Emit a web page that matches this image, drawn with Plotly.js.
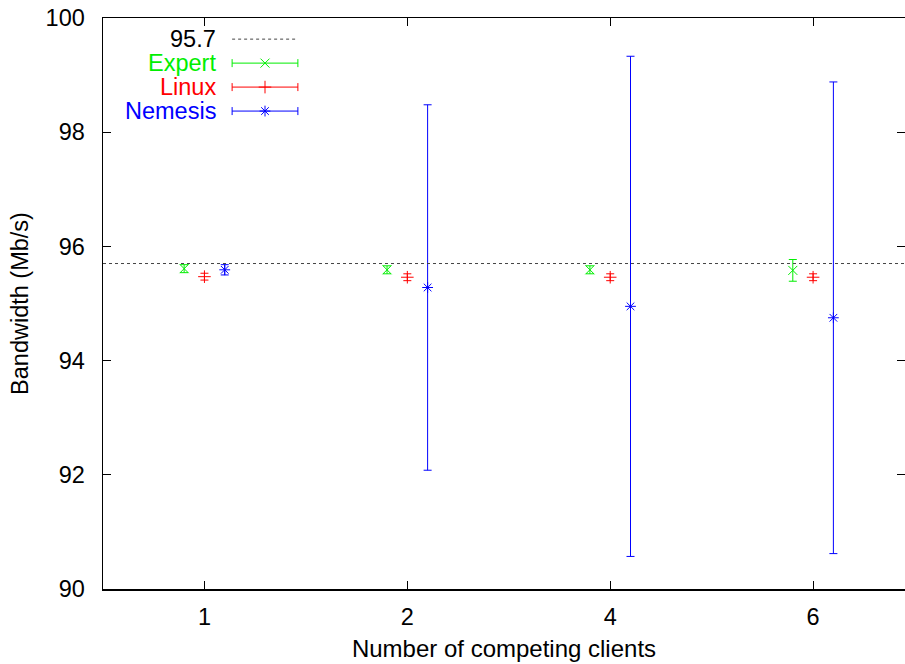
<!DOCTYPE html>
<html>
<head>
<meta charset="utf-8">
<script src="https://cdn.plot.ly/plotly-3.0.1.min.js"></script>
<style>html,body{margin:0;padding:0;background:#fff;}#chart{width:905px;height:664px;}</style>
</head>
<body>
<div id="chart"></div>
<script>
const categories = ['1', '2', '4', '6'];
const expert = [95.61, 95.59, 95.59, 95.58];
const expertErr = [0.07, 0.07, 0.07, 0.19];
const linux = [95.47, 95.46, 95.46, 95.46];
const linuxErr = [0.06, 0.06, 0.06, 0.06];
const nemesis = [95.59, 95.28, 94.95, 94.75];
const nemesisErr = [0.09, 3.2, 4.38, 4.13];
const refLine = 95.7;
const seriesNames = ['Expert', 'Linux', 'Nemesis'];

const FONT = 'Liberation Sans, Arial, Helvetica, sans-serif';
const FS = 23.5;
const colors = ['#00ee00', '#ff0000', '#0000ff'];
const symbols = ['x-thin-open', 'cross-thin-open', 'asterisk-open'];
const offsets = [-0.1, 0, 0.1];
const series = [[expert, expertErr], [linux, linuxErr], [nemesis, nemesisErr]];
const idx = categories.map((c, i) => i);

const traces = series.map(([vals, errs], s) => ({
  type: 'scatter', mode: 'markers',
  x: idx.map(i => i + offsets[s]), y: vals,
  marker: {symbol: symbols[s], size: 9, color: colors[s], line: {width: 1, color: colors[s]}},
  error_y: {type: 'data', array: errs, visible: true, color: colors[s], thickness: 1, width: 4},
  showlegend: false, hoverinfo: 'skip'
}));

// legend samples (gnuplot style) on an overlay axis in [0,1]
const legX0 = 0.161, legX1 = 0.243, legTextX = 0.144;
const legRows = [0.963, 0.921, 0.879, 0.837];
seriesNames.forEach((n, s) => {
  traces.push({
    type: 'scatter', mode: 'markers', xaxis: 'x2', yaxis: 'y2',
    x: [(legX0 + legX1) / 2], y: [legRows[s + 1]],
    marker: {symbol: symbols[s], size: 9, color: colors[s], line: {width: 1, color: colors[s]}},
    error_x: {type: 'data', array: [(legX1 - legX0) / 2], visible: true, color: colors[s], thickness: 1, width: 4},
    showlegend: false, hoverinfo: 'skip'
  });
});

const annotations = [{
  xref: 'paper', yref: 'paper', x: legTextX, y: legRows[0], xanchor: 'right', yanchor: 'middle',
  text: String(refLine), showarrow: false, font: {family: FONT, size: FS, color: '#000'}
}];
seriesNames.forEach((n, s) => annotations.push({
  xref: 'paper', yref: 'paper', x: legTextX, y: legRows[s + 1], xanchor: 'right', yanchor: 'middle',
  text: n, showarrow: false, font: {family: FONT, size: FS, color: colors[s]}
}));

const shapes = [
  {type: 'line', xref: 'paper', yref: 'y', x0: 0, x1: 1, y0: refLine, y1: refLine,
   line: {color: '#444', width: 1, dash: 'dot'}},
  {type: 'line', xref: 'paper', yref: 'paper', x0: legX0, x1: legX1, y0: legRows[0], y1: legRows[0],
   line: {color: '#444', width: 1, dash: 'dot'}}
];

const layout = {
  width: 905, height: 664,
  margin: {l: 103, r: 0, t: 18, b: 75},
  paper_bgcolor: '#fff', plot_bgcolor: '#fff',
  font: {family: FONT, size: FS, color: '#000'},
  xaxis: {
    range: [-0.5, 3.453], tickvals: idx, ticktext: categories,
    ticks: 'inside', ticklen: 8, tickcolor: '#000', tickwidth: 1,
    showline: true, linecolor: '#000', linewidth: 1.5, mirror: 'ticks',
    showgrid: false, zeroline: false, ticklabelstandoff: 6,
    title: {text: 'Number of competing clients', font: {family: FONT, size: 24}, standoff: 11}
  },
  yaxis: {
    range: [90, 100], tickvals: [90, 92, 94, 96, 98, 100],
    ticks: 'inside', ticklen: 8, tickcolor: '#000', tickwidth: 1,
    showline: true, linecolor: '#000', linewidth: 1.5, mirror: 'ticks',
    showgrid: false, zeroline: false, ticklabelstandoff: 12,
    title: {text: 'Bandwidth (Mb/s)', font: {family: FONT, size: FS}, standoff: 10}
  },
  xaxis2: {overlaying: 'x', range: [0, 1], visible: false, fixedrange: true},
  yaxis2: {overlaying: 'y', range: [0, 1], visible: false, fixedrange: true},
  shapes: shapes, annotations: annotations, showlegend: false
};

Plotly.newPlot('chart', traces, layout, {displayModeBar: false, staticPlot: true});
</script>
</body>
</html>
